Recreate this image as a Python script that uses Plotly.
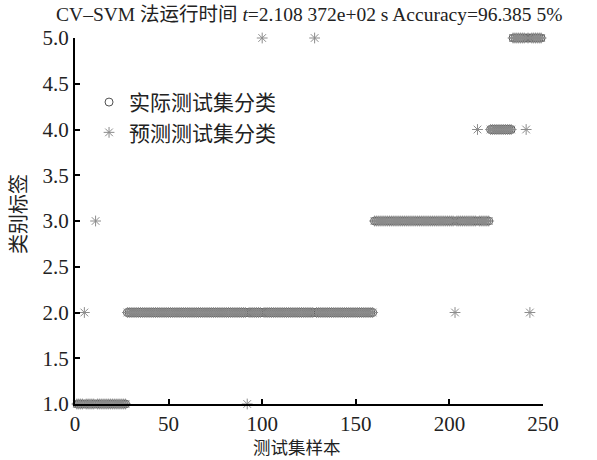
import numpy as np
import plotly.graph_objects as go

# ---- data ----
class_labels = [1, 2, 3, 4, 5]
class_counts = [27, 132, 62, 12, 16]          # consecutive test samples per true class (total 249)
err_samples = [5, 11, 92, 100, 128, 203, 215, 241, 243]   # misclassified sample numbers
err_pred = [2, 3, 1, 5, 5, 2, 4, 4, 2]                       # their predicted labels
x_ticks = [0, 50, 100, 150, 200, 250]
y_ticks = [1.0, 1.5, 2.0, 2.5, 3.0, 3.5, 4.0, 4.5, 5.0]

actual = np.repeat(class_labels, class_counts)
samples = np.arange(1, len(actual) + 1)
predicted = actual.copy()
for s, p in zip(err_samples, err_pred):
    predicted[s - 1] = p

serif = "Liberation Serif, Times New Roman, Noto Sans CJK SC, serif"
cjk = "Noto Sans CJK SC, sans-serif"

fig = go.Figure()
fig.add_trace(go.Scatter(
    x=samples, y=actual, mode="markers", name="实际测试集分类",
    marker=dict(symbol="circle-open", size=8, color="#505050", line=dict(width=1, color="#505050")),
    cliponaxis=False,
))
fig.add_trace(go.Scatter(
    x=samples, y=predicted, mode="markers", name="预测测试集分类",
    marker=dict(symbol="asterisk-open", size=9, color="#8c8c8c", line=dict(width=1, color="#8c8c8c")),
    cliponaxis=False,
))

axis_common = dict(
    showline=True, linecolor="black", linewidth=2,
    ticks="inside", ticklen=5, tickwidth=2, tickcolor="black",
    showgrid=False, zeroline=False, mirror=False,
    tickfont=dict(family=serif, size=21, color="#222"),
)
fig.update_xaxes(range=[0, 250], tickvals=x_ticks, **axis_common)
fig.update_yaxes(range=[1, 5], tickvals=y_ticks, tickformat=".1f", **axis_common)

fig.update_layout(
    width=597, height=460,
    margin=dict(l=75, r=54, t=38, b=56),
    plot_bgcolor="white", paper_bgcolor="white",
    showlegend=True,
    legend=dict(x=0.03, y=0.88, xanchor="left", yanchor="top",
                font=dict(family=cjk, size=21, color="#222"),
                bgcolor="rgba(0,0,0,0)", tracegroupgap=0),
    title=dict(
        text="CV–SVM 法运行时间 <i>t</i>=2.108 372e+02 s Accuracy=96.385 5%",
        x=0.518, xanchor="center", y=0.97, yanchor="middle",
        font=dict(family=serif, size=19.5, color="#222"),
    ),
    annotations=[
        dict(text="测试集样本", xref="paper", yref="paper", x=0.474, y=-0.115,
             xanchor="center", yanchor="middle", showarrow=False,
             font=dict(family=cjk, size=17.5, color="#222")),
        dict(text="类别标签", xref="paper", yref="paper", x=-0.123, y=0.52,
             xanchor="center", yanchor="middle", showarrow=False, textangle=-90,
             font=dict(family=cjk, size=20, color="#222")),
    ],
)

fig.write_html("out.html", config={"displayModeBar": False},
               post_script="document.body.style.margin='0';")
